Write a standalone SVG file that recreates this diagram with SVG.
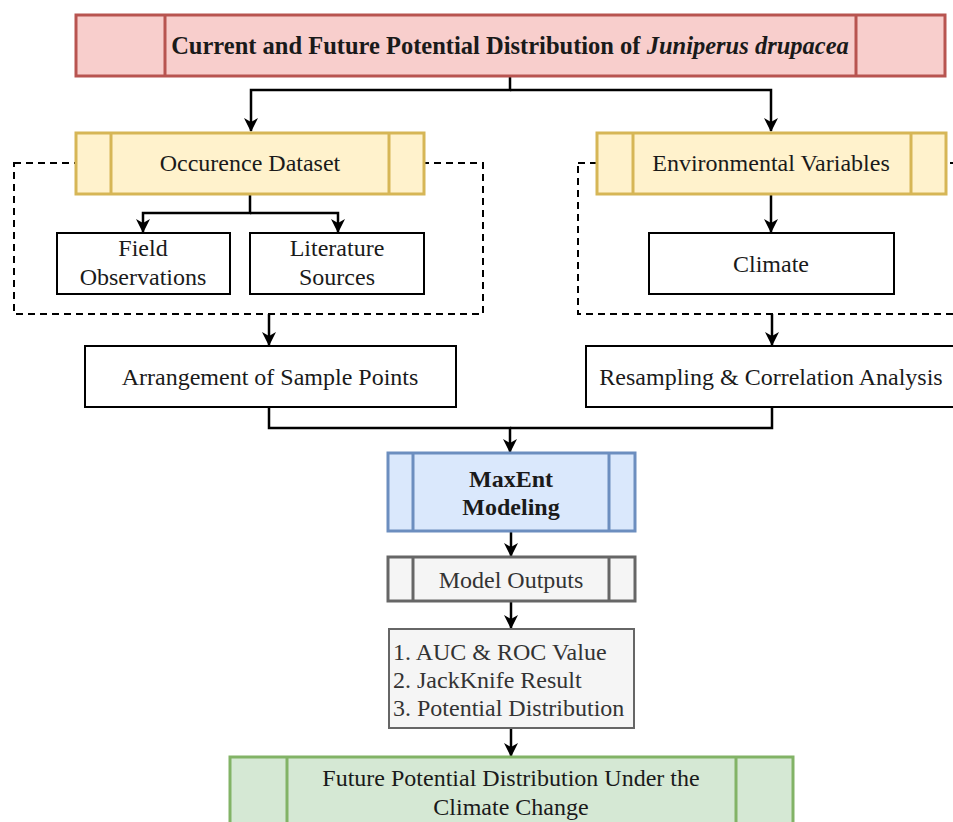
<svg xmlns="http://www.w3.org/2000/svg" width="953" height="822" viewBox="0 0 953 822">
<style>
text{font-family:"Liberation Serif","Times New Roman",serif;font-size:24px;fill:#1a1a1a;text-anchor:middle}
.c{fill:none;stroke:#000;stroke-width:2.5}
.d{fill:none;stroke:#000;stroke-width:2;stroke-dasharray:7,5}
.w{fill:#fff;stroke:#000;stroke-width:2}
.red{fill:#f8cecc;stroke:#b85450;stroke-width:3}
.yel{fill:#fff2cc;stroke:#d6b656;stroke-width:3}
.blu{fill:#dae8fc;stroke:#6c8ebf;stroke-width:3}
.gry{fill:#f5f5f5;stroke:#666;stroke-width:3}
.gry2{fill:#f5f5f5;stroke:#666;stroke-width:2}
.grn{fill:#d5e8d4;stroke:#82b366;stroke-width:3}
</style>
<defs>
<marker id="a" viewBox="0 0 14 14" refX="13" refY="7" markerWidth="14" markerHeight="14" markerUnits="userSpaceOnUse" orient="auto">
<path d="M0,0 L14,7 L0,14 L4,7 z" fill="#000"/>
</marker>
</defs>
<rect width="953" height="822" fill="#fff"/>
<g id="groups">
<rect class="d" x="14" y="163" width="469" height="151"/>
<rect class="d" x="578" y="163" width="400" height="151"/>
</g>
<g id="connectors">
<path class="c" d="M510,76 V90 H251 V131" marker-end="url(#a)"/>
<path class="c" d="M510,90 H771 V131" marker-end="url(#a)"/>
<path class="c" d="M250,194 V213 H143 V232" marker-end="url(#a)"/>
<path class="c" d="M250,213 H338 V232" marker-end="url(#a)"/>
<path class="c" d="M771,194 V232" marker-end="url(#a)"/>
<path class="c" d="M269,314 V345" marker-end="url(#a)"/>
<path class="c" d="M772,314 V345" marker-end="url(#a)"/>
<path class="c" d="M269,407 V428 H510 V452" marker-end="url(#a)"/>
<path class="c" d="M772,407 V428 H510"/>
<path class="c" d="M511,531 V556" marker-end="url(#a)"/>
<path class="c" d="M511,601 V628" marker-end="url(#a)"/>
<path class="c" d="M511,728 V756" marker-end="url(#a)"/>
</g>
<g id="title">
<rect class="red" x="76" y="15" width="869" height="61"/>
<line class="red" x1="165" y1="15" x2="165" y2="76"/>
<line class="red" x1="856" y1="15" x2="856" y2="76"/>
<text x="510" y="54" font-weight="bold" style="font-size:24.5px">Current and Future Potential Distribution of <tspan font-style="italic">Juniperus drupacea</tspan></text>
</g>
<g id="occurence">
<rect class="yel" x="76" y="133" width="348" height="61"/>
<line class="yel" x1="111" y1="133" x2="111" y2="194"/>
<line class="yel" x1="389" y1="133" x2="389" y2="194"/>
<text x="250" y="171">Occurence Dataset</text>
</g>
<g id="environmental">
<rect class="yel" x="597" y="133" width="349" height="61"/>
<line class="yel" x1="633" y1="133" x2="633" y2="194"/>
<line class="yel" x1="911" y1="133" x2="911" y2="194"/>
<text x="771" y="171">Environmental Variables</text>
</g>
<g id="field">
<rect class="w" x="57" y="233" width="173" height="61"/>
<text x="143" y="256">Field</text>
<text x="143" y="285">Observations</text>
</g>
<g id="literature">
<rect class="w" x="250" y="233" width="174" height="61"/>
<text x="337" y="256">Literature</text>
<text x="337" y="285">Sources</text>
</g>
<g id="climate">
<rect class="w" x="649" y="233" width="245" height="61"/>
<text x="771" y="272">Climate</text>
</g>
<g id="arrangement">
<rect class="w" x="85" y="346" width="371" height="61"/>
<text x="270" y="385">Arrangement of Sample Points</text>
</g>
<g id="resampling">
<rect class="w" x="586" y="346" width="371" height="61"/>
<text x="771" y="385">Resampling &amp; Correlation Analysis</text>
</g>
<g id="maxent">
<rect class="blu" x="388" y="453" width="247" height="78"/>
<line class="blu" x1="413" y1="453" x2="413" y2="531"/>
<line class="blu" x1="609" y1="453" x2="609" y2="531"/>
<text x="511" y="487" font-weight="bold">MaxEnt</text>
<text x="511" y="515" font-weight="bold">Modeling</text>
</g>
<g id="outputs">
<rect class="gry" x="388" y="557" width="247" height="44"/>
<line class="gry" x1="413" y1="557" x2="413" y2="601"/>
<line class="gry" x1="609" y1="557" x2="609" y2="601"/>
<text x="511" y="588" style="fill:#333">Model Outputs</text>
</g>
<g id="results">
<rect class="gry2" x="389" y="629" width="245" height="99"/>
<text x="393" y="660" style="text-anchor:start;fill:#333">1. AUC &amp; ROC Value</text>
<text x="393" y="688" style="text-anchor:start;fill:#333">2. JackKnife Result</text>
<text x="393" y="716" style="text-anchor:start;fill:#333">3. Potential Distribution</text>
</g>
<g id="future">
<rect class="grn" x="230" y="757" width="563" height="80"/>
<line class="grn" x1="287" y1="757" x2="287" y2="837"/>
<line class="grn" x1="736" y1="757" x2="736" y2="837"/>
<text x="511" y="786">Future Potential Distribution Under the</text>
<text x="511" y="815">Climate Change</text>
</g>
</svg>
